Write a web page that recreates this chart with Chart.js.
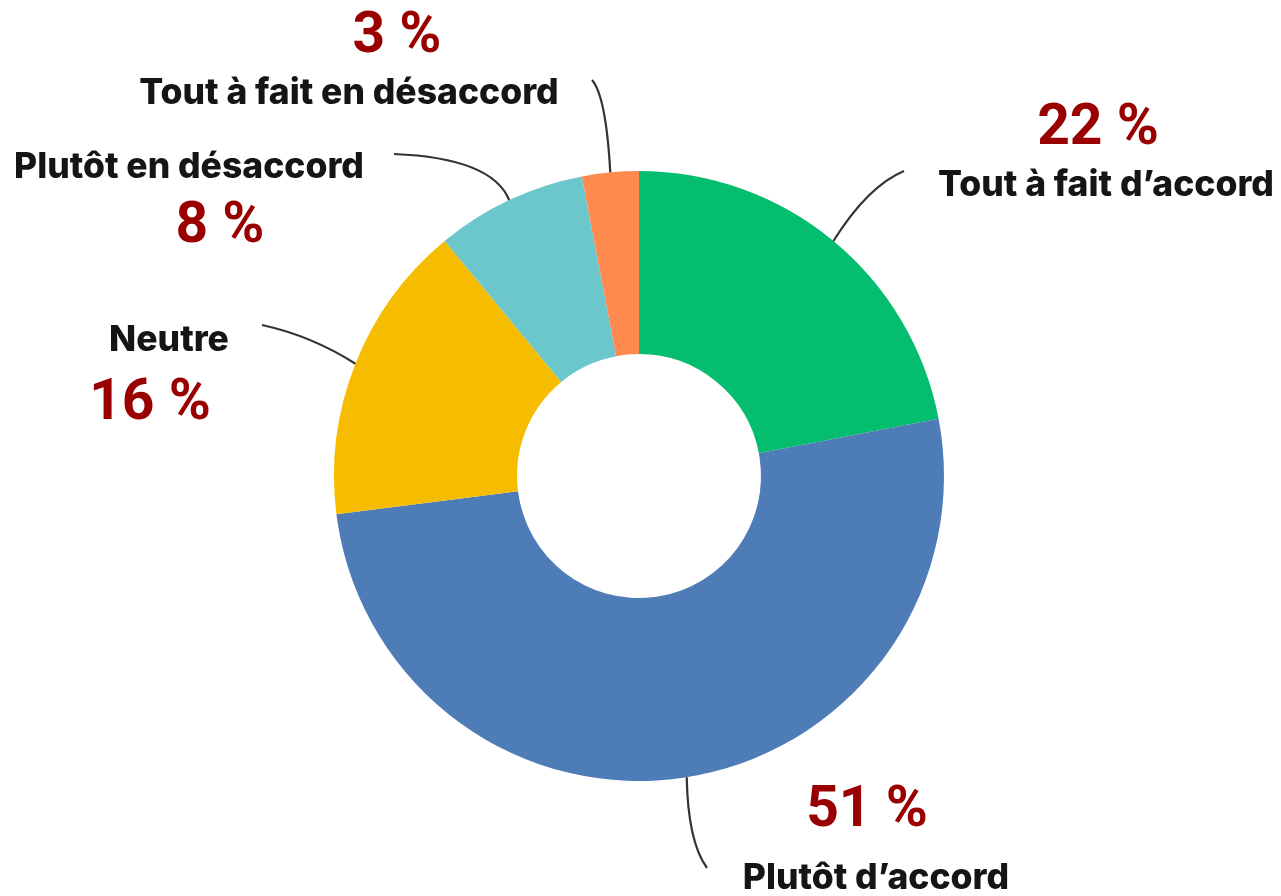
<!DOCTYPE html>
<html>
<head>
<meta charset="utf-8">
<script src="https://cdn.jsdelivr.net/npm/chart.js@4"></script>
<style>
  html, body { margin: 0; padding: 0; background: #ffffff; }
  #wrap { width: 1281px; height: 896px; position: relative; }
</style>
</head>
<body>
<div id="wrap"><canvas id="myChart"></canvas></div>
<script>
// data
const categories = ['Tout à fait d’accord', 'Plutôt d’accord', 'Neutre', 'Plutôt en désaccord', 'Tout à fait en désaccord'];
const values = [22, 51, 16, 8, 3];
const colors = ['#05bd6e', '#4e7cb6', '#f6bd00', '#6bc7cc', '#fe8a4f'];

// where the annotations sit (centre of each text) and where each leader line ends
const namePos = [[1106, 185], [876, 878], [169, 340], [189, 167], [349, 93]];
const pctPos = [[1098, 130], [867, 812], [150, 405], [220, 228], [397, 38]];
const lineEnd = [[904, 171], [707, 868], [262, 325], [394, 154], [592, 80]];
const lineCtrl = [[868, 186], [688, 842], [312, 336], [492, 158], [606, 96]];

const calloutPlugin = {
    id: 'callouts',
    afterDatasetsDraw(chart) {
        const ctx = chart.ctx;
        const arcs = chart.getDatasetMeta(0).data;
        ctx.save();
        // leader lines from the middle of each arc's outer edge
        arcs.forEach((arc, i) => {
            const p = arc.getProps(['x', 'y', 'startAngle', 'endAngle', 'outerRadius'], true);
            const mid = (p.startAngle + p.endAngle) / 2;
            const sx = p.x + Math.cos(mid) * p.outerRadius;
            const sy = p.y + Math.sin(mid) * p.outerRadius;
            ctx.beginPath();
            ctx.moveTo(sx, sy);
            ctx.quadraticCurveTo(lineCtrl[i][0], lineCtrl[i][1], lineEnd[i][0], lineEnd[i][1]);
            ctx.strokeStyle = '#333333';
            ctx.lineWidth = 2.2;
            ctx.stroke();
        });
        ctx.textAlign = 'center';
        ctx.textBaseline = 'middle';
        categories.forEach((name, i) => {
            ctx.fillStyle = '#151515';
            ctx.font = '800 35.5px Inter, Roboto, sans-serif';
            ctx.fillText(name, namePos[i][0], namePos[i][1]);
            ctx.fillStyle = '#990000';
            ctx.font = 'bold 57px Roboto, "Open Sans", sans-serif';
            ctx.fillText(values[i] + ' %', pctPos[i][0], pctPos[i][1]);
        });
        ctx.restore();
    }
};

const config = {
    type: 'doughnut',
    data: {
        labels: categories,
        datasets: [{
            data: values,
            backgroundColor: colors,
            borderWidth: 0
        }]
    },
    options: {
        responsive: true,
        maintainAspectRatio: false,
        animation: false,
        cutout: '40%',
        layout: {
            padding: { left: 334, right: 337, top: 171, bottom: 115 }
        },
        plugins: {
            legend: { display: false },
            tooltip: { enabled: false }
        }
    },
    plugins: [calloutPlugin]
};

const myChart = new Chart(document.getElementById('myChart'), config);
</script>
</body>
</html>
